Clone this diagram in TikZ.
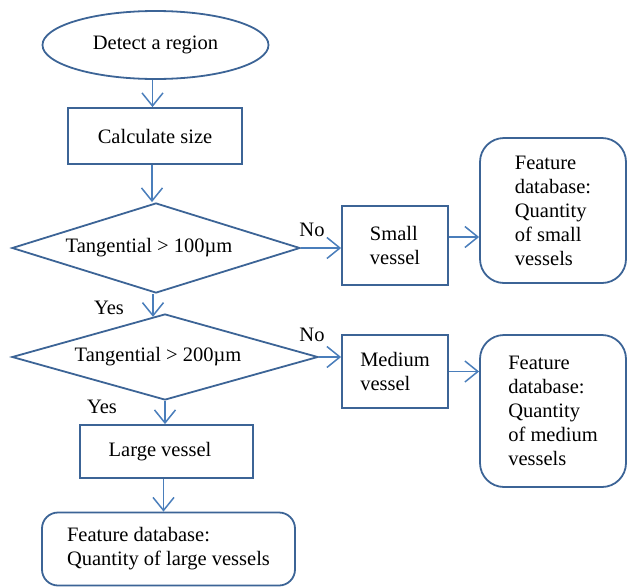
\documentclass[tikz,border=0pt]{standalone}
\usepackage{fontspec}
\setmainfont{Liberation Serif}
\newfontfamily\diagserif{Liberation Serif}
\usetikzlibrary{shapes.geometric,arrows.meta}
\definecolor{shapeblue}{RGB}{60,100,150}
\definecolor{arrowblue}{RGB}{74,126,187}
\begin{document}
\begin{tikzpicture}[x=1pt,y=-1pt,
  every node/.style={font=\diagserif\fontsize{20.5}{24}\selectfont, inner sep=0pt},
  box/.style={draw=shapeblue, line width=1.8pt, rectangle},
  rbox/.style={draw=shapeblue, line width=1.8pt, rectangle, rounded corners=24pt, align=left},
  decision/.style={draw=shapeblue, line width=1.8pt, diamond, aspect=3.2},
  term/.style={draw=shapeblue, line width=1.8pt, ellipse},
  arr/.style={draw=arrowblue, line width=1.5pt, -{Straight Barb[length=13pt,width=21pt]}},
  lbl/.style={font=\diagserif\fontsize{20.5}{24}\selectfont}]
\useasboundingbox (0,0) rectangle (627,587);

\node[term, minimum width=226pt, minimum height=68pt] (detect) at (155.5,45) {Detect a region};
\node[box, minimum width=174pt, minimum height=56pt] (calc) at (155,136) {Calculate size};
\node[decision, minimum width=288pt, minimum height=90pt] (d1) at (156,248) {\hspace*{-14pt}Tangential > 100µm};
\node[box, minimum width=106pt, minimum height=79pt, align=left] (small) at (395,245.5) {Small\\vessel};
\node[rbox, minimum width=146pt, minimum height=145pt] (f1) at (553,210.5) {Feature\\database:\\Quantity\\of small\\vessels};
\node[decision, minimum width=306pt, minimum height=86pt] (d2) at (165,357) {\hspace*{-14pt}Tangential > 200µm};
\node[box, minimum width=106pt, minimum height=73pt, align=left] (medium) at (395,371.5) {Medium\\vessel};
\node[rbox, minimum width=146pt, minimum height=152pt] (f2) at (553,411) {Feature\\database:\\Quantity\\of medium\\vessels};
\node[box, minimum width=173pt, minimum height=53pt] (large) at (166.5,451.5) {\hspace*{-13pt}Large vessel};
\node[rbox, rounded corners=16pt, minimum width=253pt, minimum height=73pt] (f3) at (168.5,549) {Feature database:\\Quantity of large vessels};

\node[lbl] (no1) at (312,230) {No};
\node[lbl] (yes1) at (109,308) {Yes};
\node[lbl] (no2) at (312,335) {No};
\node[lbl] (yes2) at (102,407) {Yes};

\draw[arr] ([xshift=-3pt]detect.south) -- ([xshift=-3pt]detect.south |- calc.north);
\draw[arr] ([xshift=-3pt]calc.south) -- ([xshift=-3pt]calc.south |- d1.north);
\draw[arr] (d1.east) -- (d1.east -| small.west);
\draw[arr] ([yshift=8.5pt]small.east) -- ([yshift=8.5pt]small.east -| f1.west);
\draw[arr] ([xshift=-3pt]d1.south) -- ([xshift=-3pt]d1.south |- d2.108);
\draw[arr] (d2.east) -- (d2.east -| medium.west);
\draw[arr] (medium.east) -- (medium.east -| f2.west);
\draw[arr] (d2.south) -- (d2.south |- large.north);
\draw[arr] ([xshift=-3pt]large.south) -- ([xshift=-3pt]large.south |- f3.north);
\end{tikzpicture}
\end{document}
